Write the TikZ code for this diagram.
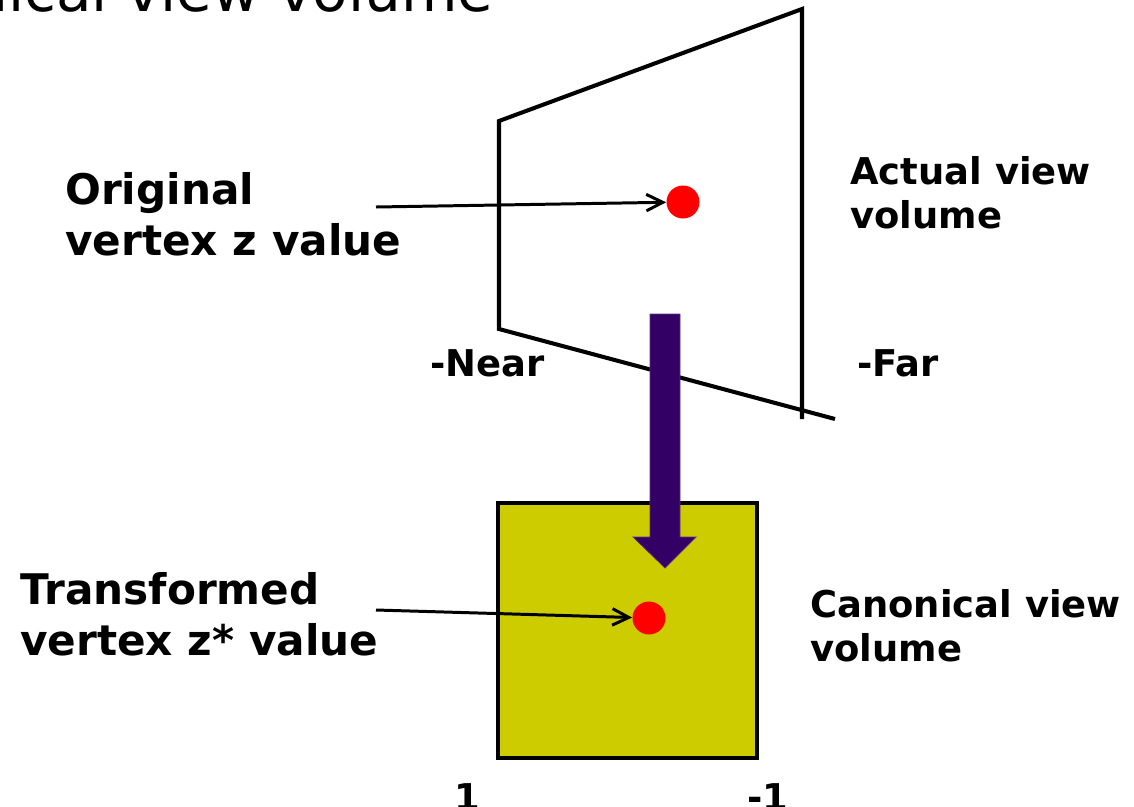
\documentclass[tikz,border=0pt]{standalone}
\usepackage{fontspec}
\setmainfont{DejaVu Sans}
\usetikzlibrary{arrows.meta}
\definecolor{figRojo}{RGB}{255,0,0}
\definecolor{figOliva}{RGB}{204,204,0}
\definecolor{figMorado}{RGB}{51,0,102}
\tikzset{
  etiqueta/.style={
    anchor=north west, inner sep=0pt, align=left,
    font=\bfseries\fontsize{24}{29}\selectfont
  },
  etiquetac/.style={
    anchor=north west, inner sep=0pt, align=left,
    font=\bfseries\fontsize{21}{25}\selectfont
  },
  marca/.style={inner sep=0pt, font=\bfseries\fontsize{21}{25}\selectfont},
  borde/.style={line width=2.3pt, line join=miter, draw=black},
  punto/.style={circle, fill=figRojo, inner sep=0pt, minimum size=0.66cm},
  flechita/.style={-{Straight Barb[length=0.33cm,width=0.33cm]}, line width=1.7pt},
  bloquem/.style={fill=figMorado, draw=figMorado!80!white, line width=0.4pt}
}
\begin{document}
\begin{tikzpicture}[x=0.02cm, y=-0.02cm]
  \useasboundingbox (0,0) rectangle (1134,806);
  \clip (0,0) rectangle (1134,806);
  % titulo cortado arriba
  \node[anchor=base west, inner sep=0pt, font=\fontsize{33}{39}\selectfont] (titulo) at (-177,11) {Canonical view volume};

  % volumen canonico
  \draw[fill=figOliva, line width=1.9pt] (498,503) rectangle (757,758);

  % volumen de vision real
  \draw[borde] (802,419) -- (802,9) -- (499,121) -- (499,329) -- (835,419);

  % flecha de transformacion
  \path[bloquem] (650,314) -- (680,314) -- (680,537) -- (696,537) -- (665,568)
    -- (633,537) -- (650,537) -- cycle;

  \node[punto] (puntoA) at (683,202) {};
  \node[punto] (puntoB) at (649,618) {};

  \node[etiqueta] (origen) at (65,172) {Original\\vertex z value};
  \node[etiqueta] (transf) at (20,572) {Transformed\\vertex z* value};
  \node[etiquetac] (actual) at (850,156) {Actual view\\volume};
  \node[etiquetac] (canon) at (810,589) {Canonical view\\volume};
  \node[marca, anchor=base west] (cerca) at (430,376) {-Near};
  \node[marca, anchor=base west] (lejos) at (857,376) {-Far};
  \node[marca, anchor=base] (uno) at (467,810) {1};
  \node[marca, anchor=base] (menosuno) at (768,810) {-1};

  \coordinate (colaA) at (376,207);
  \coordinate (colaB) at (376,610);
  \draw[flechita] (colaA) -- (puntoA);
  \draw[flechita] (colaB) -- (puntoB);
\end{tikzpicture}
\end{document}
